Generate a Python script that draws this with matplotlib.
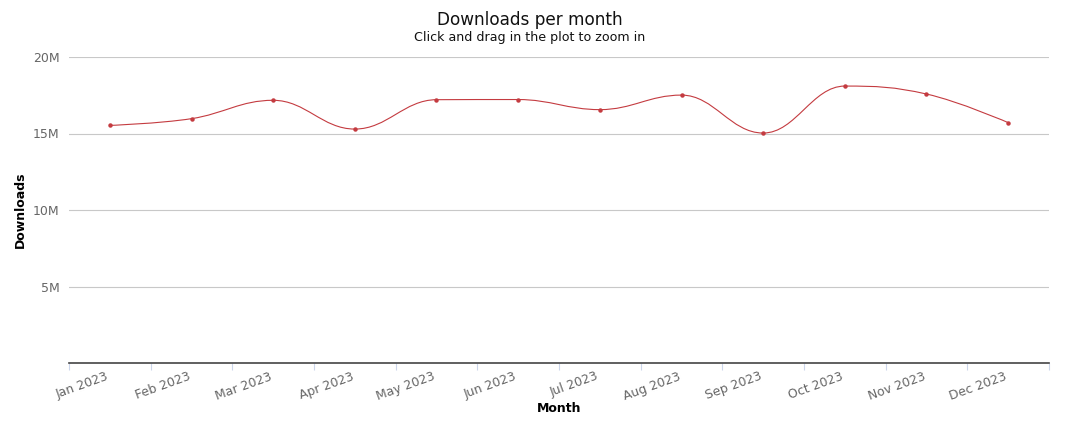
import matplotlib
matplotlib.use("Agg")
import matplotlib.pyplot as plt
import matplotlib.transforms as mtransforms
from matplotlib.path import Path
from matplotlib.patches import PathPatch
from matplotlib.ticker import FuncFormatter, FixedLocator
import numpy as np

months = ["Jan 2023", "Feb 2023", "Mar 2023", "Apr 2023", "May 2023", "Jun 2023",
          "Jul 2023", "Aug 2023", "Sep 2023", "Oct 2023", "Nov 2023", "Dec 2023"]
downloads = [15.53e6, 15.97e6, 17.17e6, 15.29e6, 17.21e6, 17.22e6,
             16.56e6, 17.51e6, 15.03e6, 18.10e6, 17.58e6, 15.71e6]
y_ticks = [5e6, 10e6, 15e6, 20e6]

LINE = "#c43b40"
W, H = 1080, 434
fig = plt.figure(figsize=(W / 100, H / 100), dpi=100)
L, R, T, B = 69, 1049, 57, 363
ax = fig.add_axes([L / W, 1 - B / H, (R - L) / W, (B - T) / H])

x = np.arange(len(downloads), dtype=float)
y = np.array(downloads, dtype=float)


def spline_path(xs, ys, smoothing=1.5):
    n = len(xs)
    denom = smoothing + 1
    left = [(xs[i], ys[i]) for i in range(n)]
    right = [(xs[i], ys[i]) for i in range(n)]
    for i in range(1, n - 1):
        px, py = xs[i], ys[i]
        lx, ly = xs[i - 1], ys[i - 1]
        nx, ny = xs[i + 1], ys[i + 1]
        lcx = (smoothing * px + lx) / denom
        lcy = (smoothing * py + ly) / denom
        rcx = (smoothing * px + nx) / denom
        rcy = (smoothing * py + ny) / denom
        if rcx != lcx:
            corr = ((rcy - lcy) * (rcx - px)) / (rcx - lcx) + py - rcy
            lcy += corr
            rcy += corr
        if lcy > ly and lcy > py:
            lcy = max(ly, py)
            rcy = 2 * py - lcy
        elif lcy < ly and lcy < py:
            lcy = min(ly, py)
            rcy = 2 * py - lcy
        if rcy > ny and rcy > py:
            rcy = max(ny, py)
            lcy = 2 * py - rcy
        elif rcy < ny and rcy < py:
            rcy = min(ny, py)
            lcy = 2 * py - rcy
        left[i] = (lcx, lcy)
        right[i] = (rcx, rcy)
    verts = [(xs[0], ys[0])]
    codes = [Path.MOVETO]
    for i in range(1, n):
        verts += [right[i - 1], left[i], (xs[i], ys[i])]
        codes += [Path.CURVE4] * 3
    return Path(verts, codes)


ax.add_patch(PathPatch(spline_path(x, y), facecolor="none", edgecolor=LINE,
                       linewidth=0.8, zorder=3))
ax.plot(x, y, linestyle="none", marker="o", markersize=2.2, color=LINE, zorder=4)

ax.set_xlim(-0.5, len(months) - 0.5)
ax.set_ylim(0, 20e6)

ax.yaxis.set_major_locator(FixedLocator(y_ticks))
ax.yaxis.set_major_formatter(FuncFormatter(lambda v, p: f"{int(v / 1e6)}M"))
ax.grid(axis="y", color="#c8c8c8", linewidth=0.8)
ax.set_axisbelow(True)
ax.tick_params(axis="y", length=0, pad=7, labelsize=9, labelcolor="#666666")

ax.set_xticks(x)
ax.set_xticklabels(months, rotation=20, ha="right", rotation_mode="anchor",
                   fontsize=9, color="#666666")
ax.tick_params(axis="x", which="major", length=0, pad=5)
shift = mtransforms.ScaledTranslation(-4 / 100, 0, fig.dpi_scale_trans)
for lab in ax.get_xticklabels():
    lab.set_transform(lab.get_transform() + shift)
ax.set_xticks(np.arange(-0.5, len(months), 1.0), minor=True)
ax.tick_params(axis="x", which="minor", length=5, color="#ccd6eb", width=0.8)

for s in ["top", "right", "left"]:
    ax.spines[s].set_visible(False)
ax.spines["bottom"].set_color("#444444")
ax.spines["bottom"].set_linewidth(1.2)

fig.text(530 / W, 1 - 20 / H, "Downloads per month", ha="center", va="center",
         fontsize=12.2, color="#111111")
fig.text(530 / W, 1 - 37 / H, "Click and drag in the plot to zoom in", ha="center",
         va="center", fontsize=9.1, color="#111111")
fig.text(20 / W, 1 - 210 / H, "Downloads", rotation=90, ha="center", va="center",
         fontsize=9, fontweight="bold", color="#000000")
fig.text(559 / W, 1 - 408 / H, "Month", ha="center", va="center",
         fontsize=9, fontweight="bold", color="#000000")

fig.savefig("out.png", dpi=100)
